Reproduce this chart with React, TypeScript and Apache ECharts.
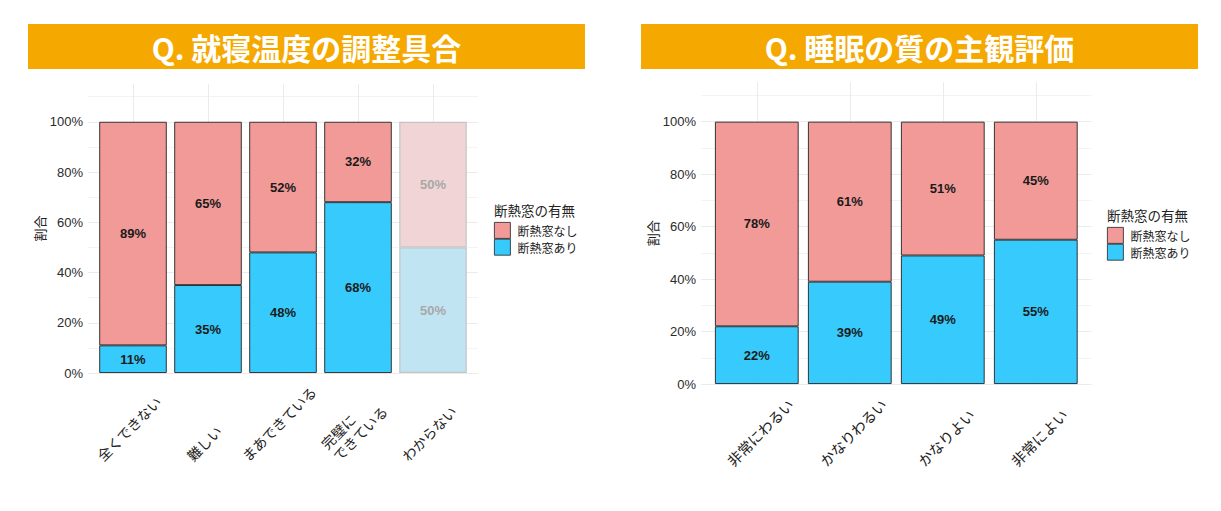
import React, { useEffect, useRef } from 'react';
import * as echarts from 'echarts';

const leftTitle = 'Q. 就寝温度の調整具合';
const rightTitle = 'Q. 睡眠の質の主観評価';
const leftCategories = ['全くできない', '難しい', 'まあできている', '完璧に\nできている', 'わからない'];
const leftWith = [0.11, 0.35, 0.48, 0.68, 0.5];
const leftWithout = [0.89, 0.65, 0.52, 0.32, 0.5];
const leftDimmed = [false, false, false, false, true];
const rightCategories = ['非常にわるい', 'かなりわるい', 'かなりよい', '非常によい'];
const rightWith = [0.22, 0.39, 0.49, 0.55];
const rightWithout = [0.78, 0.61, 0.51, 0.45];
const rightDimmed = [false, false, false, false];
const seriesWith = '断熱窓あり';
const seriesWithout = '断熱窓なし';
const legendOrder = [seriesWithout, seriesWith];
const legendTitle = '断熱窓の有無';
const yAxisName = '割合';

const FONT = "'Liberation Sans', 'Noto Sans CJK JP', sans-serif";
const CJK = "'Noto Sans CJK JP', 'Liberation Sans', sans-serif";
const PINK = '#F29A98';
const BLUE = '#36CBFC';
const PINK_DIM = '#F1D5D6';
const BLUE_DIM = '#C1E4F3';
const ORANGE = '#F5A800';

type Layout = {
  left: number; width: number; zeroY: number; unit: number;
  banner: [number, number]; legendX: number; legendY: number; legendTitleY: number;
  labelBottom: number; labelFont: number; labelOffset: number; nameGap: number;
};

const leftLayout: Layout = {
  left: 88, width: 390, zeroY: 373, unit: 251.2,
  banner: [28, 585], legendX: 494, legendY: 222, legendTitleY: 210,
  labelBottom: 464, labelFont: 14, labelOffset: -4, nameGap: 41,
};
const rightLayout: Layout = {
  left: 701, width: 390.6, zeroY: 384, unit: 262.3,
  banner: [641, 1198], legendX: 1107, legendY: 227, legendTitleY: 215,
  labelBottom: 469, labelFont: 14.5, labelOffset: 3, nameGap: 42,
};

const YMAX = 1.15;

function buildPanel(idx: number, title: string, cats: string[], withV: number[], withoutV: number[], dimmed: boolean[], L: Layout) {
  const n = cats.length;
  const slots = 5 * n + 2;
  const centerIdx = cats.map((_, i) => 3 + 5 * i);
  const centerSet = new Set(centerIdx);
  const xData: string[] = [];
  for (let j = 0; j < slots; j++) {
    const k = centerIdx.indexOf(j);
    xData.push(k >= 0 ? cats[k] : ' ' + j);
  }
  const unitPx = L.width / (n + 0.2);
  const barWidth = unitPx * 0.9;
  const height = YMAX * L.unit;
  const grid = { left: L.left, width: L.width, top: L.zeroY - height, height };

  const xAxis = {
    type: 'category', gridIndex: idx, data: xData, boundaryGap: false,
    axisLine: { show: false }, axisTick: { show: false }, axisLabel: { show: false },
    splitLine: { show: true, interval: (i: number) => centerSet.has(i), lineStyle: { color: '#ebebeb', width: 1 } },
  };
  const yAxis = {
    type: 'value', gridIndex: idx, min: 0, max: YMAX, interval: 0.1,
    name: yAxisName, nameLocation: 'middle', nameRotate: 90, nameGap: L.nameGap,
    nameTextStyle: { fontSize: 13, color: '#222', fontFamily: CJK },
    axisLine: { show: false }, axisTick: { show: false },
    axisLabel: {
      fontSize: 13, color: '#2a2a2a', fontFamily: FONT, margin: 5,
      formatter: (v: number) => {
        const p = Math.round(v * 100);
        return p % 20 === 0 && p <= 100 ? p + '%' : '';
      },
    },
    splitLine: { show: true, showMaxLine: false, lineStyle: { color: ['#ebebeb', '#f3f3f3'], width: 1 } },
  };

  const mk = (name: string, vals: number[], color: string, dimColor: string) => ({
    type: 'bar', name, xAxisIndex: idx, yAxisIndex: idx, stack: 'p' + idx, barWidth,
    itemStyle: { color, borderColor: '#222', borderWidth: 0.9 },
    label: {
      show: true, position: 'inside', fontSize: 13, fontWeight: 'bold', color: '#1a1a1a', fontFamily: FONT,
      formatter: (p: any) => Math.round(p.value * 100) + '%',
    },
    data: xData.map((_, j) => {
      const k = centerIdx.indexOf(j);
      if (k < 0) return '-';
      if (dimmed[k]) {
        return {
          value: vals[k],
          itemStyle: { color: dimColor, borderColor: '#c4c4c4', borderWidth: 1.2 },
          label: { color: '#a8a8a8' },
        };
      }
      return vals[k];
    }),
  });

  const labelSeries = {
    type: 'custom', xAxisIndex: idx, yAxisIndex: idx, silent: true, clip: false, z: 10,
    data: centerIdx.map((c) => [c, 0]),
    encode: { x: 0, y: 1 },
    renderItem: (params: any, api: any) => {
      const pt = api.coord([api.value(0), 0]);
      const text = cats[params.dataIndex];
      const lines = text.split('\n');
      const fs = L.labelFont;
      const lh = fs * 1.2;
      const len = Math.max(...lines.map((s) => s.length)) * fs;
      const h = lines.length * lh;
      const ext = (len + h) * Math.SQRT1_2;
      const cx = pt[0] + L.labelOffset;
      const cy = L.labelBottom - ext / 2;
      const ax = cx - (len / 2) * Math.SQRT1_2;
      const ay = cy + (len / 2) * Math.SQRT1_2;
      return {
        type: 'text', x: ax, y: ay, rotation: Math.PI / 4,
        style: { text, align: 'left', verticalAlign: 'middle', fontSize: fs, lineHeight: lh, fill: '#222', fontFamily: CJK },
      };
    },
  };

  const legend = {
    orient: 'vertical', left: L.legendX, top: L.legendY, itemWidth: 16, itemHeight: 16, itemGap: 0,
    padding: 0, icon: 'rect', selectedMode: false, data: legendOrder,
    itemStyle: { borderWidth: 0.8 },
    textStyle: { fontSize: 12, color: '#222', fontFamily: CJK, padding: [0, 0, 0, 2] },
  };

  const graphics = [
    { type: 'rect', shape: { x: L.banner[0], y: 24, width: L.banner[1] - L.banner[0], height: 45 }, style: { fill: ORANGE }, silent: true },
    {
      type: 'text', x: (L.banner[0] + L.banner[1]) / 2, y: 47,
      style: { text: title, align: 'center', verticalAlign: 'middle', fontSize: 30, fontWeight: 'bold', fill: '#fff', fontFamily: CJK },
      silent: true,
    },
    {
      type: 'text', x: L.legendX, y: L.legendTitleY,
      style: { text: legendTitle, align: 'left', verticalAlign: 'middle', fontSize: 13.5, fill: '#222', fontFamily: CJK },
      silent: true,
    },
  ];

  return {
    grid, xAxis, yAxis, legend, graphics,
    series: [mk(seriesWith, withV, BLUE, BLUE_DIM), mk(seriesWithout, withoutV, PINK, PINK_DIM), labelSeries],
  };
}

export default function App() {
  const ref = useRef<HTMLDivElement>(null);
  useEffect(() => {
    document.body.style.margin = '0';
    if (!ref.current) return;
    const chart = echarts.init(ref.current, null, { renderer: 'svg' });
    const a = buildPanel(0, leftTitle, leftCategories, leftWith, leftWithout, leftDimmed, leftLayout);
    const b = buildPanel(1, rightTitle, rightCategories, rightWith, rightWithout, rightDimmed, rightLayout);
    chart.setOption({
      animation: false,
      backgroundColor: '#fff',
      grid: [a.grid, b.grid],
      xAxis: [a.xAxis, b.xAxis],
      yAxis: [a.yAxis, b.yAxis],
      legend: [a.legend, b.legend],
      series: [...a.series, ...b.series],
      graphic: [...a.graphics, ...b.graphics],
    } as any);
    return () => chart.dispose();
  }, []);
  return <div ref={ref} style={{ width: 1221, height: 511 }} />;
}
